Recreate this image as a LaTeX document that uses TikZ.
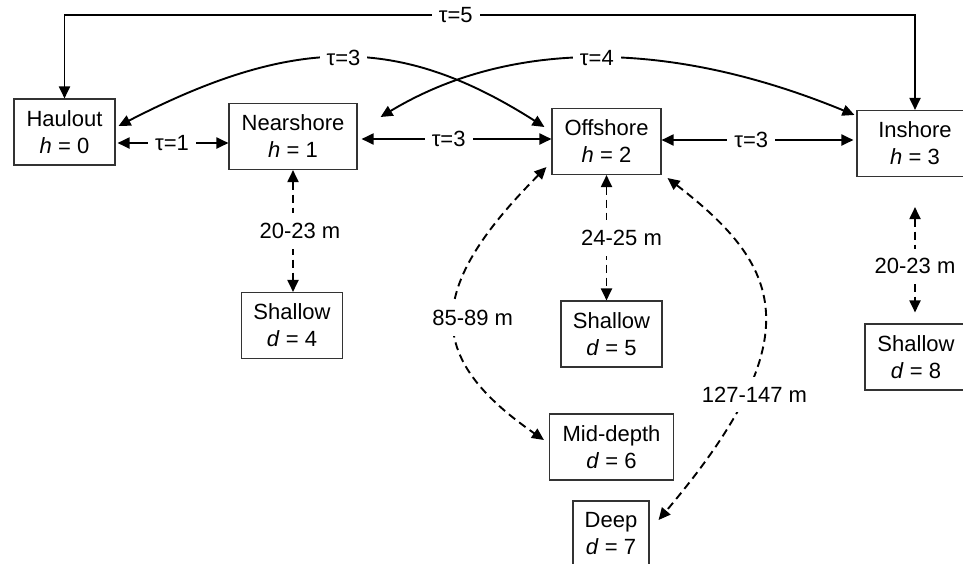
\documentclass[tikz,border=0pt]{standalone}
\usepackage{fontspec}
\setmainfont{Liberation Sans}
\usetikzlibrary{arrows.meta,calc}
\begin{document}
\begin{tikzpicture}[x=1pt,y=1pt,
  box/.style={draw=black!80, line width=1.1pt, align=center, inner sep=0pt, minimum height=66pt, font=\fontsize{22}{27}\selectfont},
  link/.style={line width=1.9pt, {Triangle[length=12pt,width=11pt]}-{Triangle[length=12pt,width=11pt]}},
  dlink/.style={link, dash pattern=on 8pt off 5pt},
  lbl/.style={fill=white, inner xsep=7pt, inner ysep=4pt, font=\fontsize{22}{27}\selectfont},
  dlbl/.style={lbl, inner xsep=4pt, inner ysep=10pt}
]
\useasboundingbox (0,0) rectangle (963,-563);
\fill[white] (0,0) rectangle (963,-563);

\node[box, minimum width=101pt] (haul) at (64.5,-132) {Haulout\\\textit{h} = 0};
\node[box, minimum width=128pt] (near) at (293,-136.5) {Nearshore\\\textit{h} = 1};
\node[box, minimum width=109pt] (off) at (606.5,-141.5) {Offshore\\\textit{h} = 2};
\node[box, minimum width=116pt] (insh) at (915,-143.5) {Inshore\\\textit{h} = 3};
\node[box, minimum width=101pt] (sh4) at (292,-325.5) {Shallow\\\textit{d} = 4};
\node[box, minimum width=101pt] (sh5) at (611.5,-334) {Shallow\\\textit{d} = 5};
\node[box, minimum width=102pt] (sh8) at (916,-357) {Shallow\\\textit{d} = 8};
\node[box, minimum width=124pt] (mid) at (611.5,-447) {Mid-depth\\\textit{d} = 6};
\node[box, minimum width=76pt] (deep) at (611,-534) {Deep\\\textit{d} = 7};

% top tau=5
\coordinate (tl) at (64.5,-15);
\coordinate (tr) at (915,-15);
\draw[link] (haul.north) -- (tl) -- node[lbl,pos=0.46]{τ=5} (tr) -- (insh.north);

% horizontal links
\coordinate (ya) at (0,-143);
\coordinate (yb) at (0,-139);
\coordinate (yc) at (0,-140);
\draw[link, shorten <=2pt] (haul.east |- ya) -- node[lbl]{τ=1} (near.west |- ya);
\draw[link, shorten <=4pt] (near.east |- yb) -- node[lbl,pos=0.47]{τ=3} (off.west |- yb);
\draw[link, shorten >=3pt] (off.east |- yc) -- node[lbl,pos=0.46]{τ=3} (insh.west |- yc);

% curved solid links
\draw[link] ($(haul.east)+(3,6)$) .. controls (295,-35) and (400,-35) .. node[lbl]{τ=3} ($(off.west)+(-7,14.5)$);
\draw[link] ($(near.east)+(23,19.5)$) .. controls (510,-39) and (670,-39) .. node[lbl]{τ=4} ($(insh.north west)+(-2,-5)$);

% dashed depth links
\draw[dlink] (near.south) -- node[dlbl,xshift=7pt]{20-23 m} (near.south |- sh4.north);
\draw[dlink] (off.south) -- node[dlbl,xshift=15pt]{24-25 m} (off.south |- sh5.north);
\draw[dlink, shorten <=30pt, shorten >=11pt] (insh.south) -- node[dlbl,pos=0.61]{20-23 m} (insh.south |- sh8.north);
\draw[dlink] ($(off.south west)+(-5,8)$) .. controls (425,-289) and (424,-357) .. node[dlbl,xshift=18pt]{85-89 m} ($(mid.west)+(-5,7)$);
\draw[dlink] ($(off.south east)+(6,-3)$) .. controls (780,-265) and (815,-335) .. node[dlbl,pos=0.72,xshift=7pt,yshift=-6pt]{127-147 m} ($(deep.east)+(9,14)$);
\end{tikzpicture}
\end{document}
